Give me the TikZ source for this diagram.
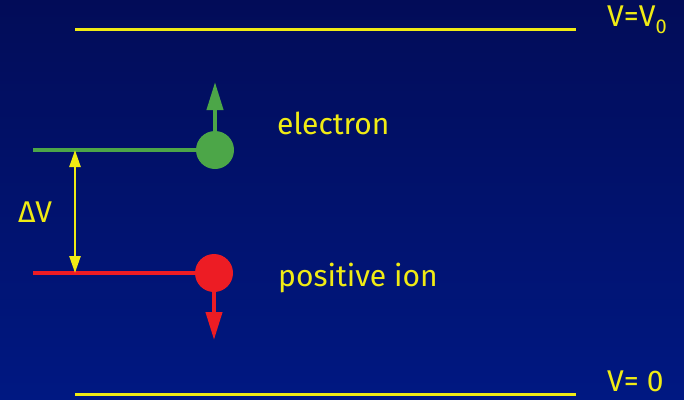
\documentclass[tikz,border=0pt]{standalone}
\usepackage{fontspec}
\setmainfont{Fira Sans}
\usetikzlibrary{arrows.meta}
\definecolor{bgtop}{RGB}{2,12,88}
\definecolor{bgbot}{RGB}{0,24,130}
\definecolor{ylw}{RGB}{240,235,20}
\definecolor{grn}{RGB}{76,166,72}
\definecolor{rd}{RGB}{237,28,36}
\tikzset{
  level/.style={line width=3pt},
  lbl/.style={text=ylw, font=\fontsize{30}{34}\selectfont, inner sep=0pt},
  charge/.style={circle, minimum size=38pt, inner sep=0pt},
}
\begin{document}
\begin{tikzpicture}[x=1pt,y=-1pt]
\shade[top color=bgtop, bottom color=bgbot] (0,0) rectangle (684,399);
\useasboundingbox (0,0) rectangle (684,399);
% plates
\coordinate (t1) at (75,29); \coordinate (t2) at (576,29);
\coordinate (b1) at (75,394); \coordinate (b2) at (576,394);
\draw[level, ylw] (t1) -- (t2);
\draw[level, ylw] (b1) -- (b2);
\node[lbl, anchor=west] (v0) at (607,20) {V=V\raisebox{-0.25em}{\fontsize{20}{20}\selectfont 0}};
\node[lbl, anchor=west] (vz) at (607,381) {V= 0};
% electron
\coordinate (gl) at (33,150);
\node[charge, fill=grn] (e) at (215,150) {};
\draw[line width=4pt, grn] (gl) -- (e.west);
\coordinate (eu) at (215,82);
\draw[line width=4pt, grn, -{Triangle[length=28pt,width=16pt]}] (e.north) -- (eu);
\node[lbl, anchor=west] (el) at (277,123) {electron};
% ion
\coordinate (rl) at (33,273);
\node[charge, fill=rd] (p) at (214,273) {};
\draw[line width=4pt, rd] (rl) -- (p.west);
\coordinate (pd) at (214,340);
\draw[line width=4pt, rd, -{Triangle[length=28pt,width=16pt]}] (p.south) -- (pd);
\node[lbl, anchor=west] (pl) at (278,278) {positive ion};
% delta V
\coordinate (d1) at (75,150); \coordinate (d2) at (75,273);
\draw[line width=2.5pt, ylw, {Triangle[length=17pt,width=11pt]}-{Triangle[length=17pt,width=11pt]}] (d1) -- (d2);
\node[lbl, anchor=west] (dv) at (18,212) {ΔV};
\end{tikzpicture}
\end{document}
